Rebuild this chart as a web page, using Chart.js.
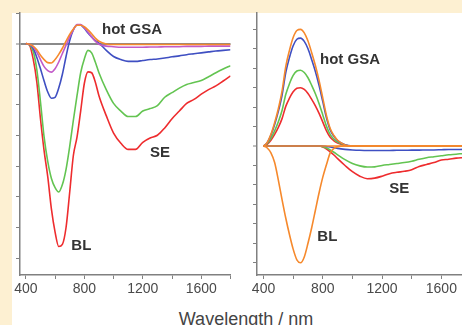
<!DOCTYPE html>
<html><head><meta charset="utf-8">
<script src="https://cdn.jsdelivr.net/npm/chart.js@4/dist/chart.umd.min.js"></script>
<style>
html,body{margin:0;padding:0;}
body{width:462px;height:325px;overflow:hidden;background:#fdf0d2;position:relative;font-family:"Liberation Sans",Arial,sans-serif;}
#paper{position:absolute;left:12px;top:13px;width:450px;height:312px;background:#ffffff;}
canvas{position:absolute;top:0;filter:blur(0.35px);}
#c1{left:0;}
#c2{left:240px;}
#xt{position:absolute;left:0;width:492px;text-align:center;top:310px;font-size:18px;line-height:18px;color:#444;white-space:nowrap;}
</style></head>
<body>
<div id="paper"></div>
<canvas id="c1" width="240" height="300"></canvas>
<canvas id="c2" width="240" height="300"></canvas>
<div id="xt">Wavelength / nm</div>
<script>
// ---- shared wavelength grid (nm) ----
const wavelengths = [400,425,450,475,500,525,550,575,600,625,650,675,700,725,750,775,800,825,850,875,900,
  950,1000,1050,1100,1150,1200,1250,1300,1350,1400,1450,1500,1550,1600,1650,1700,1750,1800];

// ---- left panel: transient spectra ----
const leftRed = [0,-0.05,-0.5,-1.25,-2.45,-3.5,-4.35,-5.4,-6.15,-6.62,-6.55,-6.0,-4.85,-3.65,-3.05,-2.2,-1.3,-0.92,-0.95,-1.25,-1.7,
  -2.35,-2.92,-3.25,-3.45,-3.45,-3.22,-3.08,-2.99,-2.75,-2.45,-2.2,-1.95,-1.82,-1.65,-1.5,-1.38,-1.22,-1.05];
const leftGreen = [0,-0.04,-0.25,-0.85,-1.9,-3.05,-3.85,-4.4,-4.7,-4.84,-4.6,-4.1,-3.35,-2.5,-1.7,-0.95,-0.5,-0.22,-0.3,-0.6,-0.95,
  -1.5,-1.95,-2.2,-2.38,-2.38,-2.2,-2.12,-2.02,-1.75,-1.6,-1.45,-1.33,-1.27,-1.2,-1.08,-0.95,-0.83,-0.72];
const leftBlue = [0,-0.03,-0.15,-0.45,-0.82,-1.22,-1.58,-1.78,-1.75,-1.45,-1.0,-0.42,0.1,0.45,0.6,0.6,0.5,0.35,0.22,0.1,0.02,
  -0.22,-0.42,-0.52,-0.58,-0.58,-0.55,-0.52,-0.5,-0.47,-0.43,-0.4,-0.36,-0.33,-0.3,-0.27,-0.24,-0.22,-0.2];
const leftPurple = [0,-0.02,-0.1,-0.28,-0.52,-0.75,-0.88,-0.93,-0.82,-0.6,-0.32,-0.05,0.22,0.45,0.62,0.62,0.52,0.38,0.22,0.08,-0.02,
  -0.08,-0.1,-0.12,-0.12,-0.12,-0.12,-0.11,-0.11,-0.1,-0.1,-0.1,-0.09,-0.09,-0.09,-0.08,-0.08,-0.08,-0.08];
const leftOrange = [0,-0.02,-0.08,-0.2,-0.38,-0.52,-0.62,-0.63,-0.52,-0.35,-0.15,0.08,0.3,0.48,0.6,0.6,0.55,0.45,0.32,0.18,0.08,
  -0.01,-0.03,-0.03,-0.03,-0.03,-0.03,-0.03,-0.03,-0.03,-0.03,-0.03,-0.03,-0.03,-0.03,-0.03,-0.03,-0.03,-0.03];

// ---- right panel: decomposed components ----
const rightGsaOrange = [0,0.18,0.6,1.2,1.92,2.82,4.08,4.92,5.58,5.94,6.0,5.82,5.4,4.8,4.14,3.36,2.46,1.56,0.9,0.54,0.3,
  0.06,0,0,0,0,0,0,0,0,0,0,0,0,0,0,0,0,0];
const rightGsaBlue = [0,0.17,0.56,1.11,1.78,2.61,3.77,4.55,5.16,5.49,5.55,5.38,5.0,4.44,3.83,3.11,2.28,1.44,0.83,0.5,0.28,
  0.06,0,0,0,0,0,0,0,0,0,0,0,0,0,0,0,0,0];
const rightGsaGreen = [0,0.12,0.39,0.78,1.25,1.83,2.65,3.2,3.63,3.86,3.9,3.78,3.51,3.12,2.69,2.18,1.6,1.01,0.59,0.35,0.2,
  0.04,0,0,0,0,0,0,0,0,0,0,0,0,0,0,0,0,0];
const rightGsaRed = [0,0.09,0.3,0.6,0.96,1.41,2.04,2.46,2.79,2.97,3.0,2.91,2.7,2.4,2.07,1.68,1.23,0.78,0.45,0.27,0.15,
  0.03,0,0,0,0,0,0,0,0,0,0,0,0,0,0,0,0,0];
const rightBleach = [0,-0.1,-0.35,-0.85,-1.75,-2.75,-3.7,-4.55,-5.3,-5.85,-6.0,-5.7,-5.0,-4.2,-3.3,-2.4,-1.6,-0.95,-0.35,-0.12,-0.03,
  0,0,0,0,0,0,0,0,0,0,0,0,0,0,0,0,0,0];
const rightSeOrange = [0,0,0,0,0,0,0,0,0,0,0,0,0,0,0,0,0,0,0,0,0,
  0,0,0,0,0,0,0,0,0,0,0,0,0,0,0,0,0,0];
const rightSeBlue = [0,0,0,0,0,0,0,0,0,0,0,0,0,0,0,0,0,-0.02,-0.05,-0.08,-0.12,
  -0.17,-0.2,-0.22,-0.23,-0.23,-0.23,-0.23,-0.22,-0.22,-0.21,-0.21,-0.2,-0.2,-0.19,-0.18,-0.18,-0.17,-0.17];
const rightSeGreen = [0,0,0,0,0,0,0,0,0,0,0,0,0,0,0,0,-0.03,-0.1,-0.2,-0.32,-0.45,
  -0.7,-0.9,-1.02,-1.08,-1.07,-1.0,-0.95,-0.9,-0.85,-0.78,-0.68,-0.6,-0.55,-0.5,-0.45,-0.42,-0.38,-0.35];
const rightSeRed = [0,0,0,0,0,0,0,0,0,0,0,0,0,0,0,0,-0.05,-0.15,-0.3,-0.46,-0.65,
  -1.0,-1.32,-1.55,-1.68,-1.65,-1.55,-1.42,-1.35,-1.3,-1.22,-1.05,-0.95,-0.85,-0.72,-0.68,-0.62,-0.6,-0.58];

// ---- ticks, labels and annotations ----
const xTickValues = [400,600,800,1000,1200,1400,1600,1800];
const xTickLabels = [400, 800, 1200, 1600];
const leftYTicks = [-7,-6,-5,-4,-3,-2,-1,0,1];
const rightYTicks = [-6,-5,-4,-3,-2,-1,0,1,2,3,4,5,6];
const leftNoteText = ['hot GSA', 'SE', 'BL'];
const leftNoteX = [921, 1249, 711];
const leftNoteY = [0.32, -3.70, -6.75];
const rightNoteText = ['hot GSA', 'SE', 'BL'];
const rightNoteX = [781, 1248, 763];
const rightNoteY = [4.22, -2.41, -4.88];

const C = {red:'#ee2c2e', green:'#63c451', blue:'#3f4fc2', purple:'#c25ac8', orange:'#f6892c'};
const FONT = '"Liberation Sans", Arial, sans-serif';
const AXIS = '#808080';

function pts(vals){ return vals.map((v,i)=>({x:wavelengths[i], y:v})); }
function ds(vals, color, order){
  return {data:pts(vals), borderColor:color, borderWidth:1.6, pointRadius:0, fill:false,
          cubicInterpolationMode:'monotone', order:order};
}
function notes(texts, xs, ys){
  return {id:'notes', afterDatasetsDraw(chart){
    const {ctx, scales:{x, y}} = chart;
    ctx.save();
    ctx.font = 'bold 15px ' + FONT;
    ctx.fillStyle = '#333333';
    ctx.textAlign = 'left'; ctx.textBaseline = 'alphabetic';
    texts.forEach((t,i)=>ctx.fillText(t, x.getPixelForValue(xs[i]), y.getPixelForValue(ys[i])));
    ctx.restore();
  }};
}
function panel(id, datasets, xr, yr, yTicks, yw, padR, plug, zeroLine){
  return new Chart(document.getElementById(id), {
    type:'line',
    data:{datasets},
    plugins:[plug],
    options:{
      responsive:false, animation:false, devicePixelRatio:1,
      layout:{padding:{left:0, top:13, right:padR, bottom:0}},
      plugins:{legend:{display:false}, tooltip:{enabled:false}},
      scales:{
        x:{type:'linear', min:xr[0], max:xr[1],
           afterBuildTicks:(s)=>{ s.ticks = xTickValues.map(v=>({value:v})); },
           ticks:{autoSkip:false, maxRotation:0, minRotation:0,
                  padding:2, color:'#4a4a4a', font:{family:FONT, size:14},
                  callback:(v)=> xTickLabels.includes(v) ? String(v) : ''},
           grid:{display:true, drawOnChartArea:false, drawTicks:true, tickLength:4, color:AXIS, tickColor:AXIS},
           border:{display:true, color:AXIS, width:1.5},
           afterFit:(s)=>{ s.height = 25; }},
        y:{type:'linear', min:yr[0], max:yr[1],
           afterBuildTicks:(s)=>{ s.ticks = yTicks.map(v=>({value:v})); },
           ticks:{display:false},
           grid:{display:true, drawOnChartArea:zeroLine, drawTicks:true, tickLength:4,
                 color:(c)=> (c.tick && c.tick.value===0) ? '#8a8a8a' : 'rgba(0,0,0,0)',
                 lineWidth:(c)=> (c.tick && c.tick.value===0) ? 2 : 1,
                 tickColor:AXIS, tickWidth:1},
           border:{display:true, color:AXIS, width:1.5},
           afterFit:(s)=>{ s.width = yw; }}
      }
    }
  });
}

panel('c1', [
  ds(leftOrange, C.orange, 1),
  ds(leftPurple, C.purple, 2),
  ds(leftBlue, C.blue, 3),
  ds(leftGreen, C.green, 4),
  ds(leftRed, C.red, 5)
], [360,1800], [-7.55,1], leftYTicks, 20, 9.5, notes(leftNoteText, leftNoteX, leftNoteY), true);

panel('c2', [
  ds(rightSeOrange, C.orange, 1),
  ds(rightGsaOrange, C.orange, 2),
  ds(rightBleach, C.orange, 3),
  ds(rightGsaBlue, C.blue, 4),
  ds(rightGsaGreen, C.green, 5),
  ds(rightGsaRed, C.red, 6),
  ds(rightSeBlue, C.blue, 7),
  ds(rightSeGreen, C.green, 8),
  ds(rightSeRed, C.red, 9)
], [356,1800], [-6.63,6.84], rightYTicks, 17, 9, notes(rightNoteText, rightNoteX, rightNoteY), false);
</script>
</body></html>
